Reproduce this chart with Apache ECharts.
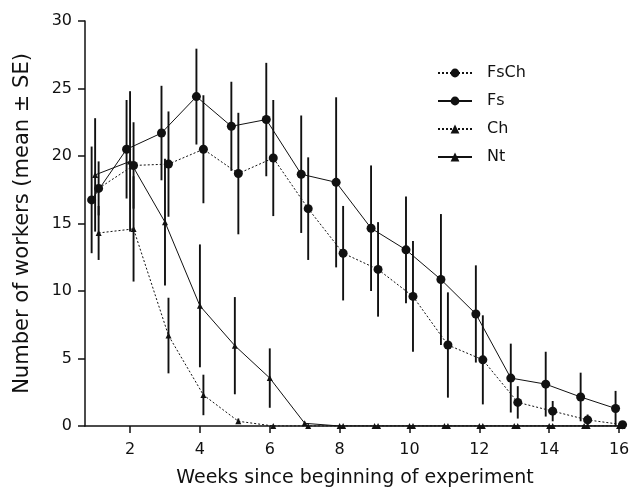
<!DOCTYPE html>
<html><head><meta charset="utf-8">
<script src="https://cdn.jsdelivr.net/npm/echarts@6/dist/echarts.min.js"></script>
<style>html,body{margin:0;padding:0;background:#fff}#c{width:632px;height:490px}</style>
</head><body><div id="c"></div>
<script>
const weeks = [1,2,3,4,5,6,7,8,9,10,11,12,13,14,15,16];
const xTicks = [2,4,6,8,10,12,14,16];
const yTicks = [0,5,10,15,20,25,30];
const fsChMean = [17.6,19.3,19.4,20.5,18.7,19.85,16.1,12.8,11.6,9.6,6.0,4.9,1.75,1.1,0.45,0.1];
const fsChSE   = [2.0,3.2,3.9,4.0,4.5,4.3,3.8,3.5,3.5,4.1,3.9,3.3,1.2,0.75,0.4,0];
const fsMean   = [16.75,20.5,21.7,24.4,22.2,22.7,18.65,18.05,14.65,13.05,10.85,8.3,3.55,3.1,2.15,1.3];
const fsSE     = [3.95,3.65,3.5,3.55,3.3,4.2,4.35,6.3,4.65,3.95,4.85,3.6,2.55,2.4,1.8,1.3];
const chMean   = [14.3,14.6,6.7,2.3,0.35,0,0,0,0,0,0,0,0,0,0,0];
const chSE     = [2.0,3.9,2.8,1.5,0.2,0,0,0,0,0,0,0,0,0,0,0];
const ntMean   = [18.6,19.6,15.1,8.9,5.95,3.55,0.2,0,0,0,0,0,0,0,0,0];
const ntSE     = [4.2,5.2,4.7,4.55,3.6,2.2,0,0,0,0,0,0,0,0,0,0];

const FONT = 'DejaVu Sans';
const INK = '#111';
const specs = [
  {name:'FsCh', mean:fsChMean, se:fsChSE, off:0.1,  dotted:true,  sym:'circle',   size:9},
  {name:'Fs',   mean:fsMean,   se:fsSE,   off:-0.1, dotted:false, sym:'circle',   size:9},
  {name:'Ch',   mean:chMean,   se:chSE,   off:0.1,  dotted:true,  sym:'triangle', size:6},
  {name:'Nt',   mean:ntMean,   se:ntSE,   off:0,    dotted:false, sym:'triangle', size:6}
];

const series = [];
specs.forEach(s => {
  const pts = weeks.map((w,i) => [w + s.off, s.mean[i]]);
  const bars = weeks.map((w,i) => [w + s.off, s.mean[i] - s.se[i], s.mean[i] + s.se[i]]).filter(d => d[2] > d[1]);
  series.push({
    type:'custom', silent:true, z:3,
    data: bars,
    renderItem: (params, api) => {
      const a = api.coord([api.value(0), api.value(1)]);
      const b = api.coord([api.value(0), api.value(2)]);
      return {type:'line', shape:{x1:a[0], y1:a[1], x2:b[0], y2:b[1]},
              style:{stroke:INK, lineWidth:1.9}};
    }
  });
  series.push({
    name:s.name, type:'line', z:4, data:pts,
    symbol:s.sym, symbolSize:s.size, showSymbol:true,
    lineStyle:{color:INK, width:1, type: s.dotted ? [2,2] : 'solid'},
    itemStyle:{color:INK, borderWidth:0},
    emphasis:{disabled:true}
  });
});

const chart = echarts.init(document.getElementById('c'), null, {renderer:'canvas'});
chart.setOption({
  animation:false,
  backgroundColor:'#fff',
  grid:{left:85, right:7, top:21, bottom:64, containLabel:false, outerBoundsMode:'none'},
  legend:{
    data:specs.map(s=>s.name), orient:'vertical', left:437, top:65, padding:0,
    itemWidth:34, itemHeight:11, itemGap:12,
    textStyle:{fontFamily:FONT, fontSize:16, color:INK, padding:[0,0,0,10]}
  },
  xAxis:{
    type:'value', min:0.71, max:16.17,
    name:'Weeks since beginning of experiment', nameLocation:'middle', nameGap:43,
    nameTextStyle:{fontFamily:FONT, fontSize:19, color:INK},
    axisLine:{show:true, onZero:false, lineStyle:{color:INK, width:1.5}},
    axisTick:{show:true, length:7, customValues:xTicks, lineStyle:{color:INK, width:1.5}},
    axisLabel:{customValues:xTicks, fontFamily:FONT, fontSize:16, color:INK, margin:16},
    splitLine:{show:false}
  },
  yAxis:{
    type:'value', min:yTicks[0], max:yTicks[yTicks.length-1], interval:5,
    name:'Number of workers (mean \u00b1 SE)', nameLocation:'middle', nameGap:52, nameRotate:90,
    nameTextStyle:{fontFamily:FONT, fontSize:21, color:INK},
    axisLine:{show:true, lineStyle:{color:INK, width:1.5}},
    axisTick:{show:true, length:7, lineStyle:{color:INK, width:1.5}},
    axisLabel:{fontFamily:FONT, fontSize:16, color:INK, margin:13},
    splitLine:{show:false}
  },
  series:series
});
</script></body></html>
